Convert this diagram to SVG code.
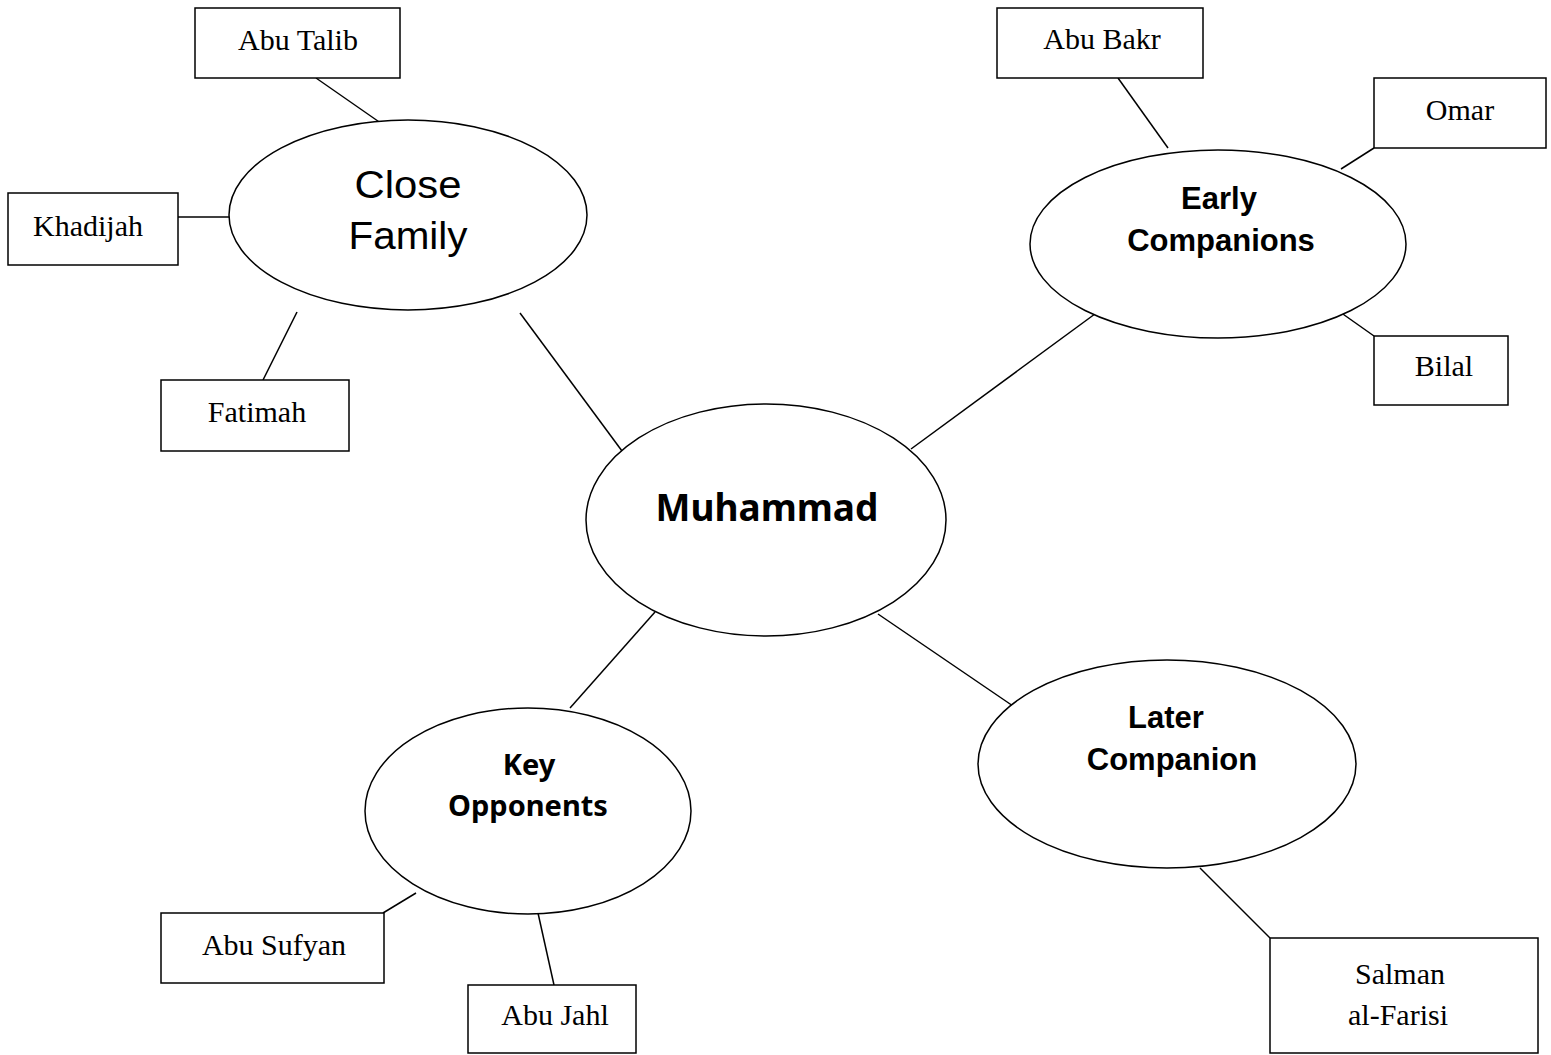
<svg xmlns="http://www.w3.org/2000/svg" width="1551" height="1055" viewBox="0 0 1551 1055">
<style>
.box{fill:#fff;stroke:#000;stroke-width:1.5}
.ell{fill:#fff;stroke:#000;stroke-width:1.5}
.con line{stroke:#000;stroke-width:1.5}
.tl{font-family:"Liberation Serif","Times New Roman",serif;font-size:30px;text-anchor:middle;fill:#000}
.sb{font-family:"Liberation Sans",Arial,sans-serif;font-weight:bold;font-size:31px;text-anchor:middle;fill:#000}
.sr{font-family:"Liberation Sans",Arial,sans-serif;font-size:38px;text-anchor:middle;fill:#000}
.nb{font-family:"Noto Sans","DejaVu Sans",sans-serif;font-weight:bold;text-anchor:middle;fill:#000}
</style>
<rect width="1551" height="1055" fill="#fff"/>
<g id="connectors" class="con">
<line x1="316" y1="78" x2="385" y2="126"/>
<line x1="178" y1="217" x2="230" y2="217"/>
<line x1="297" y1="312" x2="263" y2="380"/>
<line x1="520" y1="313" x2="622" y2="451"/>
<line x1="1118" y1="78" x2="1168" y2="148"/>
<line x1="1374" y1="148" x2="1341" y2="169"/>
<line x1="1340" y1="312" x2="1374" y2="336"/>
<line x1="1099" y1="311" x2="911" y2="449"/>
<line x1="655" y1="612" x2="570" y2="708"/>
<line x1="416" y1="893" x2="383" y2="913"/>
<line x1="538" y1="913" x2="554" y2="985"/>
<line x1="878" y1="614" x2="1013" y2="706"/>
<line x1="1200" y1="868" x2="1270" y2="938"/>
</g>
<g id="close-family"><ellipse class="ell" cx="408" cy="215" rx="179" ry="95"/><text class="sr" x="408" y="198" textLength="107" lengthAdjust="spacingAndGlyphs">Close</text><text class="sr" x="408" y="249" textLength="119" lengthAdjust="spacingAndGlyphs">Family</text></g>
<g id="abu-talib"><rect class="box" x="195" y="8" width="205" height="70"/><text class="tl" x="298" y="50">Abu Talib</text></g>
<g id="khadijah"><rect class="box" x="8" y="193" width="170" height="72"/><text class="tl" x="88" y="236">Khadijah</text></g>
<g id="fatimah"><rect class="box" x="161" y="380" width="188" height="71"/><text class="tl" x="257" y="422">Fatimah</text></g>
<g id="early-companions"><ellipse class="ell" cx="1218" cy="244" rx="188" ry="94"/><text class="sb" x="1219" y="209">Early</text><text class="sb" x="1221" y="251">Companions</text></g>
<g id="abu-bakr"><rect class="box" x="997" y="8" width="206" height="70"/><text class="tl" x="1102" y="49">Abu Bakr</text></g>
<g id="omar"><rect class="box" x="1374" y="78" width="172" height="70"/><text class="tl" x="1460" y="120">Omar</text></g>
<g id="bilal"><rect class="box" x="1374" y="336" width="134" height="69"/><text class="tl" x="1444" y="376">Bilal</text></g>
<g id="muhammad"><ellipse class="ell" cx="766" cy="520" rx="180" ry="116"/><text class="nb" x="767" y="521" font-size="37">Muhammad</text></g>
<g id="key-opponents"><ellipse class="ell" cx="528" cy="811" rx="163" ry="103"/><text class="nb" x="529" y="775" font-size="29">Key</text><text class="nb" x="528" y="816" font-size="29">Opponents</text></g>
<g id="abu-sufyan"><rect class="box" x="161" y="913" width="223" height="70"/><text class="tl" x="274" y="955">Abu Sufyan</text></g>
<g id="abu-jahl"><rect class="box" x="468" y="985" width="168" height="68"/><text class="tl" x="555" y="1025">Abu Jahl</text></g>
<g id="later-companion"><ellipse class="ell" cx="1167" cy="764" rx="189" ry="104"/><text class="sb" x="1166" y="728" font-size="32">Later</text><text class="sb" x="1172" y="770" font-size="32">Companion</text></g>
<g id="salman"><rect class="box" x="1270" y="938" width="268" height="115"/><text class="tl" x="1400" y="984">Salman</text><text class="tl" x="1398" y="1025">al-Farisi</text></g>
</svg>
